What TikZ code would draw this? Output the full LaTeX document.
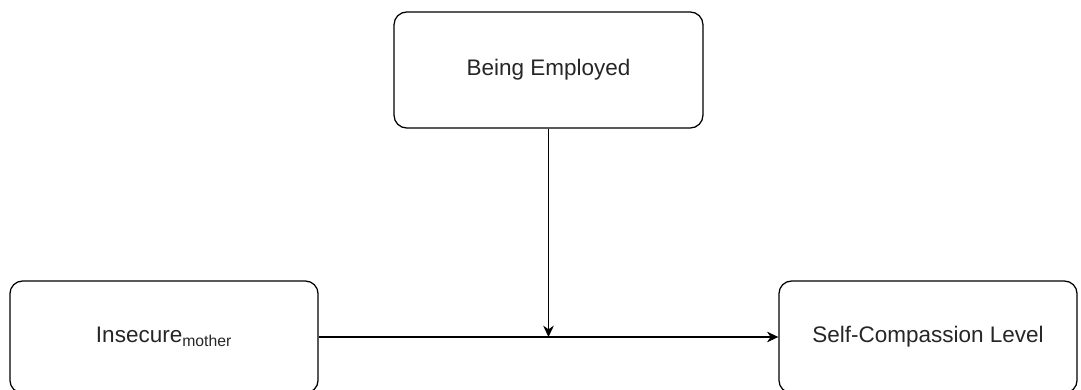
\documentclass[tikz,border=0pt]{standalone}
\usepackage{fontspec}
\setmainfont{Liberation Sans}
\usetikzlibrary{arrows.meta}

\tikzset{
	varbox/.style={draw, rounded corners=9pt, line width=0.9pt, align=center,
		text=black!85, font=\fontsize{16}{19}\selectfont},
	link/.style={line width=0.9pt},
	arrowlink/.style={link, -{Stealth[length=8pt,width=7.5pt,inset=2.5pt]}}
}

\begin{document}
\begin{tikzpicture}[x=0.025cm,y=-0.025cm]
		\useasboundingbox (0,0) rectangle (1081,389);
		\clip (0,0) rectangle (1081,389);
		\node [varbox, minimum width=7.72cm, minimum height=2.9cm] at (548.5,70) (emp) {Being Employed};
		\node [varbox, minimum width=7.7cm, minimum height=2.8cm] at (164,337) (ins) {Insecure\textsubscript{mother}};
		\node [varbox, minimum width=7.45cm, minimum height=2.8cm] at (928,337) (scl) {Self-Compassion Level};
		\coordinate (mod) at (548.5,337);
		
		\draw [arrowlink] (ins.east) -- (scl.west);
		\draw [arrowlink] (emp.south) -- (mod);
	\end{tikzpicture}
\end{document}
